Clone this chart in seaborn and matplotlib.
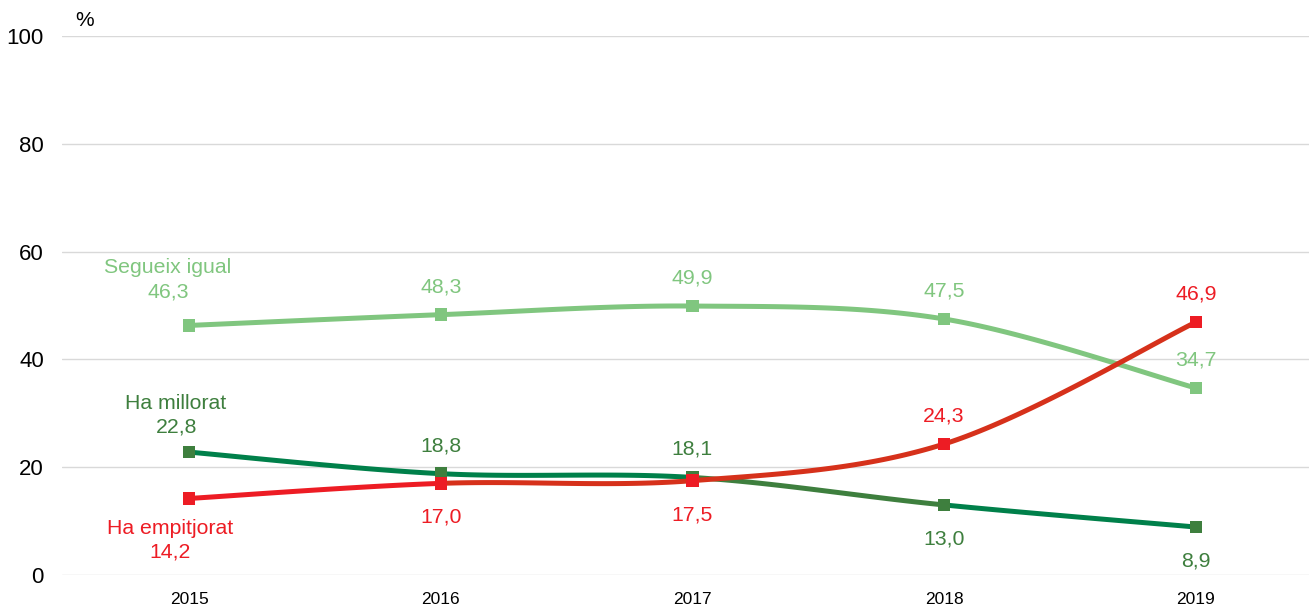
import numpy as np
import pandas as pd
import matplotlib
matplotlib.use("Agg")
import matplotlib.pyplot as plt
import seaborn as sns

# ---- data ----
years = ["2015", "2016", "2017", "2018", "2019"]
igual = [46.3, 48.3, 49.9, 47.5, 34.7]
millorat = [22.8, 18.8, 18.1, 13.0, 8.9]
empitjorat = [14.2, 17.0, 17.5, 24.3, 46.9]
yticks = [0, 20, 40, 60, 80, 100]

sns.set_theme(style="white")
plt.rcParams['font.family'] = ['Liberation Sans', 'DejaVu Sans']

fig = plt.figure(figsize=(13.09, 6.08), dpi=100)
ax = fig.add_axes([62 / 1309, 1 - 575 / 608, 1 - 62 / 1309, (575 - 36) / 608])

xs = np.arange(len(years), dtype=float)


def bezier_segments(x, y):
    """Excel-style smooth line: cubic Bezier per segment."""
    n = len(x)
    P = np.column_stack([x, y])
    segs = []
    t = np.linspace(0, 1, 60)[:, None]
    for i in range(n - 1):
        p0 = P[i - 1] if i > 0 else P[i]
        p1 = P[i]
        p2 = P[i + 1]
        p3 = P[i + 2] if i + 2 < n else P[i + 1]
        c1 = p1 + (p2 - p0) / 6.0
        c2 = p2 - (p3 - p1) / 6.0
        pts = ((1 - t) ** 3) * p1 + 3 * ((1 - t) ** 2) * t * c1 + 3 * (1 - t) * t ** 2 * c2 + t ** 3 * p2
        segs.append(pts)
    return segs


LIGHT = "#80C67F"
DARK_M = "#3E7F3E"
DARK_L = "#00804A"
RED_M = "#ED1C24"
RED_L = "#D6311B"

series = [
    (igual, [LIGHT] * 4, LIGHT),
    (millorat, [DARK_L, DARK_L, DARK_M, DARK_L], DARK_M),
    (empitjorat, [RED_M, RED_L, RED_L, RED_L], RED_M),
]

for vals, segcols, mcol in series:
    for seg, c in zip(bezier_segments(xs, np.array(vals)), segcols):
        ax.plot(seg[:, 0], seg[:, 1], color=c, lw=3.6, solid_capstyle='butt', zorder=3)

for vals, _, mcol in series:
    df = pd.DataFrame({"x": xs, "y": vals})
    sns.scatterplot(data=df, x="x", y="y", marker="s", s=80, color=mcol,
                    edgecolor="none", linewidth=0, ax=ax, zorder=4, legend=False)


def fmt(v):
    return f"{v:.1f}".replace(".", ",")


FS = 15.3
PX = 0.72  # points per pixel at dpi 100

# label placement: +1 above, -1 below
pos_igual = [1, 1, 1, 1, 1]
pos_millorat = [1, 1, 1, -1, -1]
pos_empitjorat = [-1, -1, -1, 1, 1]

# first-point label blocks (series name + value), offsets in pixels (dx, name dy, value dy)
first = {
    "igual": (-21, 58, 33),
    "millorat": (-13, 49, 25),
    "empitjorat": (-19, -30, -54),
}
names = {"igual": "Segueix igual", "millorat": "Ha millorat", "empitjorat": "Ha empitjorat"}

for key, vals, pos, col in [("igual", igual, pos_igual, LIGHT),
                            ("millorat", millorat, pos_millorat, DARK_M),
                            ("empitjorat", empitjorat, pos_empitjorat, RED_M)]:
    dx, ndy, vdy = first[key]
    ax.annotate(names[key], (xs[0], vals[0]), xytext=(dx * PX, ndy * PX), textcoords="offset points",
                ha="center", va="center", fontsize=FS, color=col, zorder=5)
    ax.annotate(fmt(vals[0]), (xs[0], vals[0]), xytext=(dx * PX, vdy * PX), textcoords="offset points",
                ha="center", va="center", fontsize=FS, color=col, zorder=5)
    for i in range(1, len(vals)):
        v, p = vals[i], pos[i]
        off = 28 if p > 0 else -34
        ax.annotate(fmt(v), (xs[i], v), xytext=(0, off * PX), textcoords="offset points",
                    ha="center", va="center", fontsize=FS, color=col, zorder=5)

ax.set_xlim(-0.505, 4.45)
ax.set_ylim(0, 100)
ax.set_yticks(yticks)
ax.set_yticklabels([str(t) for t in yticks], fontsize=16, color="#000000")
ax.set_xticks(xs)
ax.set_xticklabels(years, fontsize=12.5, color="#000000")
ax.tick_params(axis="y", length=0, pad=13)
ax.tick_params(axis="x", length=0, pad=12)
ax.set_xlabel("")
ax.set_ylabel("")
ax.grid(axis="y", color="#D9D9D9", lw=1.0)
ax.set_axisbelow(True)
for s in ax.spines.values():
    s.set_visible(False)

fig.text(85 / 1309, 1 - 21 / 608, "%", ha="center", va="center", fontsize=15, color="#000000")

fig.savefig("out.png", dpi=100)
